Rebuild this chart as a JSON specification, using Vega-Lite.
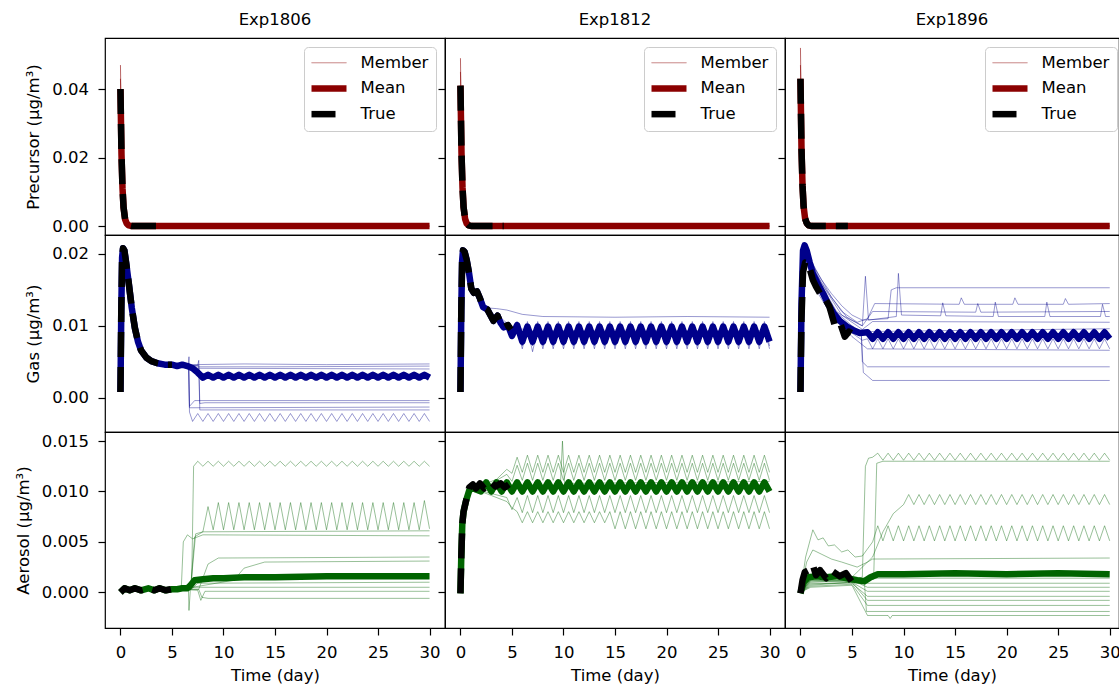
{
"$schema":"https://vega.github.io/schema/vega-lite/v6.json",
"padding":{"left":14,"top":10,"right":0,"bottom":0},
"background":"white",
"config":{
"font":"DejaVu Sans",
"view":{"stroke":"#000","strokeWidth":1.2},
"axis":{"grid":false,"domain":false,"tickColor":"#000","tickSize":7,"tickWidth":1.2,"labelFontSize":16.5,"labelColor":"#000","labelPadding":9.5,"labelFlush":false,"titleFontSize":16.5,"titleFontWeight":"normal","titleColor":"#000","titlePadding":10},
"title":{"fontSize":16.5,"fontWeight":"normal","color":"#000","offset":10,"frame":"group"},
"line":{"strokeJoin":"round","strokeCap":"butt"}
},
"columns":3,
"spacing":0,
"bounds":"flush",
"resolve":{"scale":{"x":"independent","y":"independent","color":"independent"}},
"datasets":{
"pre1806":[
{"s":1,"t":0,"y":0.047},{"s":1,"t":0.1,"y":0.025},{"s":1,"t":0.2,"y":0.013},{"s":1,"t":0.3,"y":0.0065},{"s":1,"t":0.5,"y":0.002},{"s":1,"t":0.8,"y":0.0003},{"s":1,"t":1.2,"y":0},{"s":1,"t":30,"y":0},
{"s":2,"t":0,"y":0.043},{"s":2,"t":0.1,"y":0.023},{"s":2,"t":0.2,"y":0.012},{"s":2,"t":0.35,"y":0.005},{"s":2,"t":0.6,"y":0.001},{"s":2,"t":1.2,"y":0},{"s":2,"t":30,"y":0},
{"s":0,"t":0,"y":0.04},{"s":0,"t":0.1,"y":0.021},{"s":0,"t":0.2,"y":0.011},{"s":0,"t":0.3,"y":0.0055},{"s":0,"t":0.45,"y":0.002},{"s":0,"t":0.6,"y":0.0008},{"s":0,"t":0.8,"y":0.0002},{"s":0,"t":1.1,"y":0},{"s":0,"t":30,"y":0},
{"s":-1,"t":0,"y":0.04},{"s":-1,"t":0.1,"y":0.021},{"s":-1,"t":0.2,"y":0.011},{"s":-1,"t":0.3,"y":0.0055},{"s":-1,"t":0.45,"y":0.002},{"s":-1,"t":0.6,"y":0.0008},{"s":-1,"t":0.8,"y":0.0002},{"s":-1,"t":1.1,"y":0},{"s":-1,"t":4.1,"y":0}
],
"pre1812":[
{"s":1,"t":0,"y":0.049},{"s":1,"t":0.1,"y":0.026},{"s":1,"t":0.2,"y":0.0135},{"s":1,"t":0.3,"y":0.0068},{"s":1,"t":0.5,"y":0.0021},{"s":1,"t":0.8,"y":0.0003},{"s":1,"t":1.2,"y":0},{"s":1,"t":30,"y":0},
{"s":2,"t":0,"y":0.045},{"s":2,"t":0.1,"y":0.024},{"s":2,"t":0.2,"y":0.0125},{"s":2,"t":0.35,"y":0.0052},{"s":2,"t":0.6,"y":0.001},{"s":2,"t":1.2,"y":0},{"s":2,"t":30,"y":0},
{"s":0,"t":0,"y":0.041},{"s":0,"t":0.1,"y":0.0215},{"s":0,"t":0.2,"y":0.0113},{"s":0,"t":0.3,"y":0.0056},{"s":0,"t":0.45,"y":0.0021},{"s":0,"t":0.6,"y":0.0008},{"s":0,"t":0.8,"y":0.0002},{"s":0,"t":1.1,"y":0},{"s":0,"t":30,"y":0},
{"s":-1,"t":0,"y":0.041},{"s":-1,"t":0.1,"y":0.0215},{"s":-1,"t":0.2,"y":0.0113},{"s":-1,"t":0.3,"y":0.0056},{"s":-1,"t":0.45,"y":0.0021},{"s":-1,"t":0.6,"y":0.0008},{"s":-1,"t":0.8,"y":0.0002},{"s":-1,"t":1.1,"y":0},{"s":-1,"t":4.2,"y":0}
],
"pre1896":[
{"s":1,"t":0,"y":0.052},{"s":1,"t":0.1,"y":0.0275},{"s":1,"t":0.2,"y":0.0143},{"s":1,"t":0.3,"y":0.0072},{"s":1,"t":0.5,"y":0.0022},{"s":1,"t":0.8,"y":0.0003},{"s":1,"t":1.2,"y":0},{"s":1,"t":30,"y":0},
{"s":2,"t":0,"y":0.047},{"s":2,"t":0.1,"y":0.025},{"s":2,"t":0.2,"y":0.013},{"s":2,"t":0.35,"y":0.0055},{"s":2,"t":0.6,"y":0.0011},{"s":2,"t":1.2,"y":0},{"s":2,"t":30,"y":0},
{"s":0,"t":0,"y":0.043},{"s":0,"t":0.1,"y":0.0226},{"s":0,"t":0.2,"y":0.0118},{"s":0,"t":0.3,"y":0.0059},{"s":0,"t":0.45,"y":0.0022},{"s":0,"t":0.6,"y":0.0009},{"s":0,"t":0.8,"y":0.0002},{"s":0,"t":1.1,"y":0},{"s":0,"t":30,"y":0},
{"s":-1,"t":0,"y":0.043},{"s":-1,"t":0.1,"y":0.0226},{"s":-1,"t":0.2,"y":0.0118},{"s":-1,"t":0.3,"y":0.0059},{"s":-1,"t":0.45,"y":0.0022},{"s":-1,"t":0.6,"y":0.0009},{"s":-1,"t":0.8,"y":0.0002},{"s":-1,"t":1.1,"y":0},{"s":-1,"t":4.6,"y":0}
],
"gas1806":[
{"s":1,"t":5.5,"y":0.0045},{"s":1,"t":7,"y":0.0046},{"s":1,"t":12,"y":0.0047},{"s":1,"t":20,"y":0.0046},{"s":1,"t":30,"y":0.0047},
{"s":2,"t":5.5,"y":0.0045},{"s":2,"t":7,"y":0.0043},{"s":2,"t":15,"y":0.0043},{"s":2,"t":30,"y":0.0044},
{"s":3,"t":5.5,"y":0.0045},{"s":3,"t":7,"y":0.0041},{"s":3,"t":30,"y":0.004},
{"s":4,"t":5.5,"y":0.0045},{"s":4,"t":6.6,"y":0.0045},{"s":4,"t":6.65,"y":0.0057},{"s":4,"t":6.7,"y":-0.0012},{"s":4,"t":7.2,"y":-0.0004},{"s":4,"t":30,"y":-0.0004},
{"s":5,"t":5.5,"y":0.0045},{"s":5,"t":7.5,"y":0.0045},{"s":5,"t":7.6,"y":0.0052},{"s":5,"t":7.7,"y":-0.0008},{"s":5,"t":8.2,"y":-0.0007},{"s":5,"t":30,"y":-0.0007},
{"s":6,"t":5.5,"y":0.0045},{"s":6,"t":6.6,"y":0.0045},{"s":6,"t":6.7,"y":-0.0014},{"s":6,"t":30,"y":-0.0013},
{"s":8,"t":5.5,"y":0.0045},{"s":8,"t":7.6,"y":0.0045},{"s":8,"t":7.7,"y":-0.0017},{"s":8,"t":30,"y":-0.0017},
{"s":7,"t":5.5,"y":0.0045},{"s":7,"t":6.6,"y":0.0045},{"s":7,"t":6.7,"y":-0.002},
{"s":7,"t":7,"y":-0.0033},{"s":7,"t":7.5,"y":-0.0022},{"s":7,"t":8,"y":-0.0033},{"s":7,"t":8.5,"y":-0.0022},{"s":7,"t":9,"y":-0.0033},{"s":7,"t":9.5,"y":-0.0022},{"s":7,"t":10,"y":-0.0033},{"s":7,"t":10.5,"y":-0.0022},{"s":7,"t":11,"y":-0.0033},{"s":7,"t":11.5,"y":-0.0022},{"s":7,"t":12,"y":-0.0033},{"s":7,"t":12.5,"y":-0.0022},{"s":7,"t":13,"y":-0.0033},{"s":7,"t":13.5,"y":-0.0022},{"s":7,"t":14,"y":-0.0033},{"s":7,"t":14.5,"y":-0.0022},{"s":7,"t":15,"y":-0.0033},{"s":7,"t":15.5,"y":-0.0022},{"s":7,"t":16,"y":-0.0033},{"s":7,"t":16.5,"y":-0.0022},{"s":7,"t":17,"y":-0.0033},{"s":7,"t":17.5,"y":-0.0022},{"s":7,"t":18,"y":-0.0033},{"s":7,"t":18.5,"y":-0.0022},{"s":7,"t":19,"y":-0.0033},{"s":7,"t":19.5,"y":-0.0022},{"s":7,"t":20,"y":-0.0033},{"s":7,"t":20.5,"y":-0.0022},{"s":7,"t":21,"y":-0.0033},{"s":7,"t":21.5,"y":-0.0022},{"s":7,"t":22,"y":-0.0033},{"s":7,"t":22.5,"y":-0.0022},{"s":7,"t":23,"y":-0.0033},{"s":7,"t":23.5,"y":-0.0022},{"s":7,"t":24,"y":-0.0033},{"s":7,"t":24.5,"y":-0.0022},{"s":7,"t":25,"y":-0.0033},{"s":7,"t":25.5,"y":-0.0022},{"s":7,"t":26,"y":-0.0033},{"s":7,"t":26.5,"y":-0.0022},{"s":7,"t":27,"y":-0.0033},{"s":7,"t":27.5,"y":-0.0022},{"s":7,"t":28,"y":-0.0033},{"s":7,"t":28.5,"y":-0.0022},{"s":7,"t":29,"y":-0.0033},{"s":7,"t":29.5,"y":-0.0022},{"s":7,"t":30,"y":-0.0033},
{"s":0,"t":0,"y":0.0008},{"s":0,"t":0.08,"y":0.012},{"s":0,"t":0.16,"y":0.0195},{"s":0,"t":0.25,"y":0.0208},{"s":0,"t":0.38,"y":0.0205},{"s":0,"t":0.55,"y":0.0188},{"s":0,"t":0.8,"y":0.016},{"s":0,"t":1.1,"y":0.0125},{"s":0,"t":1.4,"y":0.0097},{"s":0,"t":1.7,"y":0.0078},{"s":0,"t":2,"y":0.0066},{"s":0,"t":2.5,"y":0.0056},{"s":0,"t":3,"y":0.0051},{"s":0,"t":3.6,"y":0.0048},{"s":0,"t":4.3,"y":0.0046},{"s":0,"t":5,"y":0.0046},{"s":0,"t":5.5,"y":0.0044},{"s":0,"t":6,"y":0.0046},{"s":0,"t":6.5,"y":0.0044},{"s":0,"t":7,"y":0.0041},{"s":0,"t":7.5,"y":0.0035},
{"s":0,"t":8,"y":0.0028},{"s":0,"t":8.5,"y":0.0032},{"s":0,"t":9,"y":0.0028},{"s":0,"t":9.5,"y":0.0032},{"s":0,"t":10,"y":0.0028},{"s":0,"t":10.5,"y":0.0032},{"s":0,"t":11,"y":0.0028},{"s":0,"t":11.5,"y":0.0032},{"s":0,"t":12,"y":0.0028},{"s":0,"t":12.5,"y":0.0032},{"s":0,"t":13,"y":0.0028},{"s":0,"t":13.5,"y":0.0032},{"s":0,"t":14,"y":0.0028},{"s":0,"t":14.5,"y":0.0032},{"s":0,"t":15,"y":0.0028},{"s":0,"t":15.5,"y":0.0032},{"s":0,"t":16,"y":0.0028},{"s":0,"t":16.5,"y":0.0032},{"s":0,"t":17,"y":0.0028},{"s":0,"t":17.5,"y":0.0032},{"s":0,"t":18,"y":0.0028},{"s":0,"t":18.5,"y":0.0032},{"s":0,"t":19,"y":0.0028},{"s":0,"t":19.5,"y":0.0032},{"s":0,"t":20,"y":0.0028},{"s":0,"t":20.5,"y":0.0032},{"s":0,"t":21,"y":0.0028},{"s":0,"t":21.5,"y":0.0032},{"s":0,"t":22,"y":0.0028},{"s":0,"t":22.5,"y":0.0032},{"s":0,"t":23,"y":0.0028},{"s":0,"t":23.5,"y":0.0032},{"s":0,"t":24,"y":0.0028},{"s":0,"t":24.5,"y":0.0032},{"s":0,"t":25,"y":0.0028},{"s":0,"t":25.5,"y":0.0032},{"s":0,"t":26,"y":0.0028},{"s":0,"t":26.5,"y":0.0032},{"s":0,"t":27,"y":0.0028},{"s":0,"t":27.5,"y":0.0032},{"s":0,"t":28,"y":0.0028},{"s":0,"t":28.5,"y":0.0032},{"s":0,"t":29,"y":0.0028},{"s":0,"t":29.5,"y":0.0032},{"s":0,"t":30,"y":0.0028},
{"s":-1,"t":0,"y":0.0008},{"s":-1,"t":0.08,"y":0.012},{"s":-1,"t":0.16,"y":0.0195},{"s":-1,"t":0.25,"y":0.0208},{"s":-1,"t":0.38,"y":0.0205},{"s":-1,"t":0.55,"y":0.0188},{"s":-1,"t":0.8,"y":0.016},{"s":-1,"t":1.1,"y":0.0125},{"s":-1,"t":1.4,"y":0.0097},{"s":-1,"t":1.7,"y":0.0078},{"s":-1,"t":2,"y":0.0066},{"s":-1,"t":2.5,"y":0.0056},{"s":-1,"t":3,"y":0.0051},{"s":-1,"t":3.6,"y":0.0048},{"s":-1,"t":4.3,"y":0.0046},{"s":-1,"t":5,"y":0.0046}
],
"gas1812":[
{"s":1,"t":2.5,"y":0.0125},{"s":1,"t":3.5,"y":0.0124},{"s":1,"t":4.5,"y":0.0122},{"s":1,"t":6,"y":0.0116},{"s":1,"t":8,"y":0.0113},{"s":1,"t":15,"y":0.0112},{"s":1,"t":22,"y":0.0113},{"s":1,"t":30,"y":0.0112},
{"s":2,"t":4.5,"y":0.0101},{"s":2,"t":5,"y":0.0085},{"s":2,"t":5.5,"y":0.0106},
{"s":2,"t":6,"y":0.0072},{"s":2,"t":6.5,"y":0.0106},{"s":2,"t":7,"y":0.0072},{"s":2,"t":7.5,"y":0.0106},{"s":2,"t":8,"y":0.0072},{"s":2,"t":8.5,"y":0.0106},{"s":2,"t":9,"y":0.0072},{"s":2,"t":9.5,"y":0.0106},{"s":2,"t":10,"y":0.0072},{"s":2,"t":10.5,"y":0.0106},{"s":2,"t":11,"y":0.0072},{"s":2,"t":11.5,"y":0.0106},{"s":2,"t":12,"y":0.0072},{"s":2,"t":12.5,"y":0.0106},{"s":2,"t":13,"y":0.0072},{"s":2,"t":13.5,"y":0.0106},{"s":2,"t":14,"y":0.0072},{"s":2,"t":14.5,"y":0.0106},{"s":2,"t":15,"y":0.0072},{"s":2,"t":15.5,"y":0.0106},{"s":2,"t":16,"y":0.0072},{"s":2,"t":16.5,"y":0.0106},{"s":2,"t":17,"y":0.0072},{"s":2,"t":17.5,"y":0.0106},{"s":2,"t":18,"y":0.0072},{"s":2,"t":18.5,"y":0.0106},{"s":2,"t":19,"y":0.0072},{"s":2,"t":19.5,"y":0.0106},{"s":2,"t":20,"y":0.0072},{"s":2,"t":20.5,"y":0.0106},{"s":2,"t":21,"y":0.0072},{"s":2,"t":21.5,"y":0.0106},{"s":2,"t":22,"y":0.0072},{"s":2,"t":22.5,"y":0.0106},{"s":2,"t":23,"y":0.0072},{"s":2,"t":23.5,"y":0.0106},{"s":2,"t":24,"y":0.0072},{"s":2,"t":24.5,"y":0.0106},{"s":2,"t":25,"y":0.0072},{"s":2,"t":25.5,"y":0.0106},{"s":2,"t":26,"y":0.0072},{"s":2,"t":26.5,"y":0.0106},{"s":2,"t":27,"y":0.0072},{"s":2,"t":27.5,"y":0.0106},{"s":2,"t":28,"y":0.0072},{"s":2,"t":28.5,"y":0.0106},{"s":2,"t":29,"y":0.0072},{"s":2,"t":29.5,"y":0.0106},{"s":2,"t":30,"y":0.0072},
{"s":3,"t":4.5,"y":0.01},{"s":3,"t":5,"y":0.0082},{"s":3,"t":5.5,"y":0.0098},
{"s":3,"t":6,"y":0.0068},{"s":3,"t":6.5,"y":0.0097},{"s":3,"t":7,"y":0.0064},{"s":3,"t":7.5,"y":0.0097},{"s":3,"t":8,"y":0.0068},{"s":3,"t":8.5,"y":0.0097},{"s":3,"t":9,"y":0.0068},{"s":3,"t":9.5,"y":0.0097},{"s":3,"t":10,"y":0.0068},{"s":3,"t":10.5,"y":0.0097},{"s":3,"t":11,"y":0.0068},{"s":3,"t":11.5,"y":0.0097},{"s":3,"t":12,"y":0.0068},{"s":3,"t":12.5,"y":0.0097},{"s":3,"t":13,"y":0.0068},{"s":3,"t":13.5,"y":0.0097},{"s":3,"t":14,"y":0.0068},{"s":3,"t":14.5,"y":0.0097},{"s":3,"t":15,"y":0.0068},{"s":3,"t":15.5,"y":0.0097},{"s":3,"t":16,"y":0.0068},{"s":3,"t":16.5,"y":0.0097},{"s":3,"t":17,"y":0.0068},{"s":3,"t":17.5,"y":0.0097},{"s":3,"t":18,"y":0.0068},{"s":3,"t":18.5,"y":0.0097},{"s":3,"t":19,"y":0.0068},{"s":3,"t":19.5,"y":0.0097},{"s":3,"t":20,"y":0.0068},{"s":3,"t":20.5,"y":0.0097},{"s":3,"t":21,"y":0.0068},{"s":3,"t":21.5,"y":0.0097},{"s":3,"t":22,"y":0.0068},{"s":3,"t":22.5,"y":0.0097},{"s":3,"t":23,"y":0.0068},{"s":3,"t":23.5,"y":0.0097},{"s":3,"t":24,"y":0.0068},{"s":3,"t":24.5,"y":0.0097},{"s":3,"t":25,"y":0.0068},{"s":3,"t":25.5,"y":0.0097},{"s":3,"t":26,"y":0.0068},{"s":3,"t":26.5,"y":0.0097},{"s":3,"t":27,"y":0.0068},{"s":3,"t":27.5,"y":0.0097},{"s":3,"t":28,"y":0.0068},{"s":3,"t":28.5,"y":0.0097},{"s":3,"t":29,"y":0.0068},{"s":3,"t":29.5,"y":0.0097},{"s":3,"t":30,"y":0.0068},
{"s":4,"t":3,"y":0.0118},{"s":4,"t":4,"y":0.011},{"s":4,"t":5,"y":0.0098},{"s":4,"t":7,"y":0.0093},{"s":4,"t":15,"y":0.0094},{"s":4,"t":30,"y":0.0093},
{"s":0,"t":0,"y":0.0008},{"s":0,"t":0.08,"y":0.012},{"s":0,"t":0.16,"y":0.019},{"s":0,"t":0.25,"y":0.0205},{"s":0,"t":0.4,"y":0.0203},{"s":0,"t":0.6,"y":0.0192},{"s":0,"t":0.85,"y":0.0172},{"s":0,"t":1.05,"y":0.0152},{"s":0,"t":1.3,"y":0.0146},{"s":0,"t":1.6,"y":0.0148},{"s":0,"t":1.9,"y":0.0138},{"s":0,"t":2.2,"y":0.0126},{"s":0,"t":2.6,"y":0.0123},{"s":0,"t":2.9,"y":0.0115},{"s":0,"t":3.2,"y":0.0107},{"s":0,"t":3.6,"y":0.0114},{"s":0,"t":3.9,"y":0.0104},{"s":0,"t":4.2,"y":0.0098},{"s":0,"t":4.6,"y":0.0101},{"s":0,"t":5,"y":0.0086},{"s":0,"t":5.5,"y":0.0101},
{"s":0,"t":6,"y":0.0078},{"s":0,"t":6.5,"y":0.0099},{"s":0,"t":7,"y":0.0078},{"s":0,"t":7.5,"y":0.0099},{"s":0,"t":8,"y":0.0078},{"s":0,"t":8.5,"y":0.0099},{"s":0,"t":9,"y":0.0078},{"s":0,"t":9.5,"y":0.0099},{"s":0,"t":10,"y":0.0078},{"s":0,"t":10.5,"y":0.0099},{"s":0,"t":11,"y":0.0078},{"s":0,"t":11.5,"y":0.0099},{"s":0,"t":12,"y":0.0078},{"s":0,"t":12.5,"y":0.0099},{"s":0,"t":13,"y":0.0078},{"s":0,"t":13.5,"y":0.0099},{"s":0,"t":14,"y":0.0078},{"s":0,"t":14.5,"y":0.0099},{"s":0,"t":15,"y":0.0078},{"s":0,"t":15.5,"y":0.0099},{"s":0,"t":16,"y":0.0078},{"s":0,"t":16.5,"y":0.0099},{"s":0,"t":17,"y":0.0078},{"s":0,"t":17.5,"y":0.0099},{"s":0,"t":18,"y":0.0078},{"s":0,"t":18.5,"y":0.0099},{"s":0,"t":19,"y":0.0078},{"s":0,"t":19.5,"y":0.0099},{"s":0,"t":20,"y":0.0078},{"s":0,"t":20.5,"y":0.0099},{"s":0,"t":21,"y":0.0078},{"s":0,"t":21.5,"y":0.0099},{"s":0,"t":22,"y":0.0078},{"s":0,"t":22.5,"y":0.0099},{"s":0,"t":23,"y":0.0078},{"s":0,"t":23.5,"y":0.0099},{"s":0,"t":24,"y":0.0078},{"s":0,"t":24.5,"y":0.0099},{"s":0,"t":25,"y":0.0078},{"s":0,"t":25.5,"y":0.0099},{"s":0,"t":26,"y":0.0078},{"s":0,"t":26.5,"y":0.0099},{"s":0,"t":27,"y":0.0078},{"s":0,"t":27.5,"y":0.0099},{"s":0,"t":28,"y":0.0078},{"s":0,"t":28.5,"y":0.0099},{"s":0,"t":29,"y":0.0078},{"s":0,"t":29.5,"y":0.0099},{"s":0,"t":30,"y":0.0078},
{"s":-1,"t":0,"y":0.0008},{"s":-1,"t":0.08,"y":0.012},{"s":-1,"t":0.16,"y":0.019},{"s":-1,"t":0.25,"y":0.0205},{"s":-1,"t":0.4,"y":0.0203},{"s":-1,"t":0.6,"y":0.0192},{"s":-1,"t":0.85,"y":0.0172},{"s":-1,"t":1.05,"y":0.0152},{"s":-1,"t":1.3,"y":0.0146},{"s":-1,"t":1.6,"y":0.0148},{"s":-1,"t":1.9,"y":0.0138},{"s":-1,"t":2.2,"y":0.0126},{"s":-1,"t":2.6,"y":0.0123},{"s":-1,"t":2.9,"y":0.0115},{"s":-1,"t":3.2,"y":0.0107},{"s":-1,"t":3.6,"y":0.0114},{"s":-1,"t":3.9,"y":0.0104},{"s":-1,"t":4.2,"y":0.0098},{"s":-1,"t":4.6,"y":0.0101},{"s":-1,"t":4.9,"y":0.0095}
],
"gas1896":[
{"s":1,"t":0.4,"y":0.021},{"s":1,"t":1,"y":0.019},{"s":1,"t":2,"y":0.0165},{"s":1,"t":3,"y":0.0145},{"s":1,"t":4,"y":0.0128},{"s":1,"t":5,"y":0.0115},{"s":1,"t":6,"y":0.0108},{"s":1,"t":8.5,"y":0.011},{"s":1,"t":8.8,"y":0.015},{"s":1,"t":9.3,"y":0.0153},{"s":1,"t":30,"y":0.0153},
{"s":2,"t":0.4,"y":0.021},{"s":2,"t":1.5,"y":0.0178},{"s":2,"t":3,"y":0.014},{"s":2,"t":4.5,"y":0.0112},{"s":2,"t":6,"y":0.01},{"s":2,"t":6.3,"y":0.0169},{"s":2,"t":6.6,"y":0.0108},{"s":2,"t":9.3,"y":0.0113},{"s":2,"t":9.5,"y":0.0173},{"s":2,"t":9.8,"y":0.0115},{"s":2,"t":13.6,"y":0.0114},{"s":2,"t":13.8,"y":0.0132},{"s":2,"t":14.1,"y":0.0114},{"s":2,"t":18.7,"y":0.0113},{"s":2,"t":18.9,"y":0.0133},{"s":2,"t":19.2,"y":0.0113},{"s":2,"t":23.7,"y":0.0113},{"s":2,"t":23.9,"y":0.0133},{"s":2,"t":24.2,"y":0.0113},{"s":2,"t":29.1,"y":0.0113},{"s":2,"t":29.3,"y":0.013},{"s":2,"t":29.6,"y":0.0113},{"s":2,"t":30,"y":0.0113},
{"s":3,"t":0.4,"y":0.021},{"s":3,"t":1.2,"y":0.018},{"s":3,"t":2.5,"y":0.015},{"s":3,"t":4,"y":0.012},{"s":3,"t":5.5,"y":0.0105},{"s":3,"t":6.5,"y":0.011},{"s":3,"t":7.2,"y":0.0131},{"s":3,"t":15.4,"y":0.013},{"s":3,"t":15.6,"y":0.0139},{"s":3,"t":15.9,"y":0.013},{"s":3,"t":20.6,"y":0.013},{"s":3,"t":20.8,"y":0.0139},{"s":3,"t":21.1,"y":0.013},{"s":3,"t":25.5,"y":0.013},{"s":3,"t":25.7,"y":0.0138},{"s":3,"t":26,"y":0.013},{"s":3,"t":30,"y":0.0131},
{"s":4,"t":0.4,"y":0.021},{"s":4,"t":2,"y":0.016},{"s":4,"t":4,"y":0.0115},{"s":4,"t":6,"y":0.01},{"s":4,"t":7,"y":0.012},{"s":4,"t":17,"y":0.0119},{"s":4,"t":17.2,"y":0.0131},{"s":4,"t":17.5,"y":0.0119},{"s":4,"t":30,"y":0.012},
{"s":5,"t":0.4,"y":0.021},{"s":5,"t":1.5,"y":0.017},{"s":5,"t":3.5,"y":0.012},{"s":5,"t":6,"y":0.0095},{"s":5,"t":7,"y":0.0106},{"s":5,"t":30,"y":0.0105},
{"s":7,"t":0.4,"y":0.021},{"s":7,"t":1.5,"y":0.015},{"s":7,"t":3,"y":0.0115},{"s":7,"t":5,"y":0.0085},{"s":7,"t":6.5,"y":0.0068},{"s":7,"t":30,"y":0.0066},
{"s":8,"t":0.4,"y":0.021},{"s":8,"t":1.5,"y":0.0165},{"s":8,"t":3,"y":0.0125},{"s":8,"t":5,"y":0.01},{"s":8,"t":5.9,"y":0.0092},{"s":8,"t":6,"y":0.005},{"s":8,"t":6.5,"y":0.0043},{"s":8,"t":30,"y":0.0043},
{"s":9,"t":0.4,"y":0.021},{"s":9,"t":1.5,"y":0.016},{"s":9,"t":3,"y":0.012},{"s":9,"t":5,"y":0.0095},{"s":9,"t":5.9,"y":0.0088},{"s":9,"t":6.1,"y":0.0035},{"s":9,"t":7,"y":0.0024},{"s":9,"t":30,"y":0.0024},
{"s":10,"t":0.4,"y":0.021},{"s":10,"t":2,"y":0.015},{"s":10,"t":4,"y":0.0105},{"s":10,"t":6,"y":0.0092},{"s":10,"t":30,"y":0.0096},
{"s":6,"t":0.4,"y":0.021},{"s":6,"t":1.3,"y":0.016},{"s":6,"t":2.5,"y":0.013},{"s":6,"t":3.5,"y":0.011},{"s":6,"t":5,"y":0.009},{"s":6,"t":6,"y":0.008},
{"s":6,"t":6.5,"y":0.0082},{"s":6,"t":7,"y":0.0068},{"s":6,"t":7.5,"y":0.0082},{"s":6,"t":8,"y":0.0068},{"s":6,"t":8.5,"y":0.0082},{"s":6,"t":9,"y":0.0068},{"s":6,"t":9.5,"y":0.0082},{"s":6,"t":10,"y":0.0068},{"s":6,"t":10.5,"y":0.0082},{"s":6,"t":11,"y":0.0068},{"s":6,"t":11.5,"y":0.0082},{"s":6,"t":12,"y":0.0068},{"s":6,"t":12.5,"y":0.0082},{"s":6,"t":13,"y":0.0068},{"s":6,"t":13.5,"y":0.0082},{"s":6,"t":14,"y":0.0068},{"s":6,"t":14.5,"y":0.0082},{"s":6,"t":15,"y":0.0068},{"s":6,"t":15.5,"y":0.0082},{"s":6,"t":16,"y":0.0068},{"s":6,"t":16.5,"y":0.0082},{"s":6,"t":17,"y":0.0068},{"s":6,"t":17.5,"y":0.0082},{"s":6,"t":18,"y":0.0068},{"s":6,"t":18.5,"y":0.0082},{"s":6,"t":19,"y":0.0068},{"s":6,"t":19.5,"y":0.0082},{"s":6,"t":20,"y":0.0068},{"s":6,"t":20.5,"y":0.0082},{"s":6,"t":21,"y":0.0068},{"s":6,"t":21.5,"y":0.0082},{"s":6,"t":22,"y":0.0068},{"s":6,"t":22.5,"y":0.0082},{"s":6,"t":23,"y":0.0068},{"s":6,"t":23.5,"y":0.0082},{"s":6,"t":24,"y":0.0068},{"s":6,"t":24.5,"y":0.0082},{"s":6,"t":25,"y":0.0068},{"s":6,"t":25.5,"y":0.0082},{"s":6,"t":26,"y":0.0068},{"s":6,"t":26.5,"y":0.0082},{"s":6,"t":27,"y":0.0068},{"s":6,"t":27.5,"y":0.0082},{"s":6,"t":28,"y":0.0068},{"s":6,"t":28.5,"y":0.0082},{"s":6,"t":29,"y":0.0068},{"s":6,"t":29.5,"y":0.0082},{"s":6,"t":30,"y":0.0068},
{"s":0,"t":0,"y":0.0008},{"s":0,"t":0.1,"y":0.013},{"s":0,"t":0.25,"y":0.0205},{"s":0,"t":0.4,"y":0.0212},{"s":0,"t":0.6,"y":0.0205},{"s":0,"t":0.9,"y":0.0188},{"s":0,"t":1.2,"y":0.0173},{"s":0,"t":1.7,"y":0.0158},{"s":0,"t":2.2,"y":0.0145},{"s":0,"t":2.7,"y":0.013},{"s":0,"t":3.2,"y":0.0118},{"s":0,"t":3.8,"y":0.0107},{"s":0,"t":4.5,"y":0.0099},{"s":0,"t":5.1,"y":0.0094},{"s":0,"t":5.75,"y":0.009},
{"s":0,"t":6.5,"y":0.0091},{"s":0,"t":7,"y":0.0082},{"s":0,"t":7.5,"y":0.0091},{"s":0,"t":8,"y":0.0082},{"s":0,"t":8.5,"y":0.0091},{"s":0,"t":9,"y":0.0082},{"s":0,"t":9.5,"y":0.0091},{"s":0,"t":10,"y":0.0082},{"s":0,"t":10.5,"y":0.0091},{"s":0,"t":11,"y":0.0082},{"s":0,"t":11.5,"y":0.0091},{"s":0,"t":12,"y":0.0082},{"s":0,"t":12.5,"y":0.0091},{"s":0,"t":13,"y":0.0082},{"s":0,"t":13.5,"y":0.0091},{"s":0,"t":14,"y":0.0082},{"s":0,"t":14.5,"y":0.0091},{"s":0,"t":15,"y":0.0082},{"s":0,"t":15.5,"y":0.0091},{"s":0,"t":16,"y":0.0082},{"s":0,"t":16.5,"y":0.0091},{"s":0,"t":17,"y":0.0082},{"s":0,"t":17.5,"y":0.0091},{"s":0,"t":18,"y":0.0082},{"s":0,"t":18.5,"y":0.0091},{"s":0,"t":19,"y":0.0082},{"s":0,"t":19.5,"y":0.0091},{"s":0,"t":20,"y":0.0082},{"s":0,"t":20.5,"y":0.0091},{"s":0,"t":21,"y":0.0082},{"s":0,"t":21.5,"y":0.0091},{"s":0,"t":22,"y":0.0082},{"s":0,"t":22.5,"y":0.0091},{"s":0,"t":23,"y":0.0082},{"s":0,"t":23.5,"y":0.0091},{"s":0,"t":24,"y":0.0082},{"s":0,"t":24.5,"y":0.0091},{"s":0,"t":25,"y":0.0082},{"s":0,"t":25.5,"y":0.0091},{"s":0,"t":26,"y":0.0082},{"s":0,"t":26.5,"y":0.0091},{"s":0,"t":27,"y":0.0082},{"s":0,"t":27.5,"y":0.0091},{"s":0,"t":28,"y":0.0082},{"s":0,"t":28.5,"y":0.0091},{"s":0,"t":29,"y":0.0082},{"s":0,"t":29.5,"y":0.0091},{"s":0,"t":30,"y":0.0082},
{"s":-1,"t":0,"y":0.0008},{"s":-1,"t":0.1,"y":0.011},{"s":-1,"t":0.25,"y":0.0175},{"s":-1,"t":0.45,"y":0.0188},{"s":-1,"t":0.75,"y":0.0187},{"s":-1,"t":1.2,"y":0.0164},{"s":-1,"t":1.5,"y":0.0155},{"s":-1,"t":1.9,"y":0.0145},{"s":-1,"t":2.3,"y":0.014},{"s":-1,"t":2.8,"y":0.0127},{"s":-1,"t":3.3,"y":0.0102},{"s":-1,"t":3.8,"y":0.0106},{"s":-1,"t":4.3,"y":0.0085},{"s":-1,"t":4.7,"y":0.0092},{"s":-1,"t":4.95,"y":0.009}
],
"aer1806":[
{"s":3,"t":5.5,"y":0.0003},{"s":3,"t":6.8,"y":0.0003},{"s":3,"t":7.3,"y":0.0058},{"s":3,"t":8,"y":0.006},{"s":3,"t":30,"y":0.0061},
{"s":4,"t":5.5,"y":0.0003},{"s":4,"t":5.9,"y":0.0003},{"s":4,"t":6.1,"y":0.005},{"s":4,"t":6.5,"y":0.0057},{"s":4,"t":7,"y":0.0053},{"s":4,"t":8,"y":0.0057},{"s":4,"t":30,"y":0.0056},
{"s":5,"t":5.5,"y":0.0003},{"s":5,"t":7.6,"y":0.0003},{"s":5,"t":8.5,"y":0.0028},{"s":5,"t":9.5,"y":0.0034},{"s":5,"t":30,"y":0.0035},
{"s":6,"t":5.5,"y":0.0003},{"s":6,"t":7,"y":0.0005},{"s":6,"t":11,"y":0.0012},{"s":6,"t":12,"y":0.0024},{"s":6,"t":14,"y":0.003},{"s":6,"t":30,"y":0.0031},
{"s":7,"t":5.5,"y":0.0003},{"s":7,"t":7,"y":0.0004},{"s":7,"t":7.5,"y":0.0009},{"s":7,"t":30,"y":0.001},
{"s":8,"t":5.5,"y":0.0003},{"s":8,"t":6.6,"y":0.0003},{"s":8,"t":6.65,"y":-0.0018},{"s":8,"t":6.8,"y":0.0005},{"s":8,"t":30,"y":0.0005},
{"s":9,"t":5.5,"y":0.0003},{"s":9,"t":7.5,"y":0.0002},{"s":9,"t":7.8,"y":-0.0008},{"s":9,"t":8.2,"y":0.0001},{"s":9,"t":30,"y":0.0001},
{"s":10,"t":5.5,"y":0.0003},{"s":10,"t":7.6,"y":0.0003},{"s":10,"t":7.9,"y":-0.0005},{"s":10,"t":8.5,"y":-0.0006},{"s":10,"t":30,"y":-0.0006},
{"s":1,"t":5.5,"y":0.0003},{"s":1,"t":6.9,"y":0.0003},{"s":1,"t":7.1,"y":0.0125},{"s":1,"t":7.5,"y":0.013},
{"s":1,"t":8,"y":0.0125},{"s":1,"t":8.5,"y":0.013},{"s":1,"t":9,"y":0.0125},{"s":1,"t":9.5,"y":0.013},{"s":1,"t":10,"y":0.0125},{"s":1,"t":10.5,"y":0.013},{"s":1,"t":11,"y":0.0125},{"s":1,"t":11.5,"y":0.013},{"s":1,"t":12,"y":0.0125},{"s":1,"t":12.5,"y":0.013},{"s":1,"t":13,"y":0.0125},{"s":1,"t":13.5,"y":0.013},{"s":1,"t":14,"y":0.0125},{"s":1,"t":14.5,"y":0.013},{"s":1,"t":15,"y":0.0125},{"s":1,"t":15.5,"y":0.013},{"s":1,"t":16,"y":0.0125},{"s":1,"t":16.5,"y":0.013},{"s":1,"t":17,"y":0.0125},{"s":1,"t":17.5,"y":0.013},{"s":1,"t":18,"y":0.0125},{"s":1,"t":18.5,"y":0.013},{"s":1,"t":19,"y":0.0125},{"s":1,"t":19.5,"y":0.013},{"s":1,"t":20,"y":0.0125},{"s":1,"t":20.5,"y":0.013},{"s":1,"t":21,"y":0.0125},{"s":1,"t":21.5,"y":0.013},{"s":1,"t":22,"y":0.0125},{"s":1,"t":22.5,"y":0.013},{"s":1,"t":23,"y":0.0125},{"s":1,"t":23.5,"y":0.013},{"s":1,"t":24,"y":0.0125},{"s":1,"t":24.5,"y":0.013},{"s":1,"t":25,"y":0.0125},{"s":1,"t":25.5,"y":0.013},{"s":1,"t":26,"y":0.0125},{"s":1,"t":26.5,"y":0.013},{"s":1,"t":27,"y":0.0125},{"s":1,"t":27.5,"y":0.013},{"s":1,"t":28,"y":0.0125},{"s":1,"t":28.5,"y":0.013},{"s":1,"t":29,"y":0.0125},{"s":1,"t":29.5,"y":0.013},{"s":1,"t":30,"y":0.0125},
{"s":2,"t":5.5,"y":0.0003},{"s":2,"t":6.8,"y":0.0003},{"s":2,"t":7.2,"y":0.0055},{"s":2,"t":8,"y":0.006},{"s":2,"t":8.5,"y":0.0085},
{"s":2,"t":9,"y":0.0062},{"s":2,"t":9.5,"y":0.0089},{"s":2,"t":10,"y":0.0062},{"s":2,"t":10.5,"y":0.0089},{"s":2,"t":11,"y":0.0062},{"s":2,"t":11.5,"y":0.0089},{"s":2,"t":12,"y":0.0062},{"s":2,"t":12.5,"y":0.0089},{"s":2,"t":13,"y":0.0062},{"s":2,"t":13.5,"y":0.0089},{"s":2,"t":14,"y":0.0062},{"s":2,"t":14.5,"y":0.0089},{"s":2,"t":15,"y":0.0062},{"s":2,"t":15.5,"y":0.0089},{"s":2,"t":16,"y":0.0062},{"s":2,"t":16.5,"y":0.0089},{"s":2,"t":17,"y":0.0062},{"s":2,"t":17.5,"y":0.0089},{"s":2,"t":18,"y":0.0062},{"s":2,"t":18.5,"y":0.0089},{"s":2,"t":19,"y":0.0062},{"s":2,"t":19.5,"y":0.0089},{"s":2,"t":20,"y":0.0062},{"s":2,"t":20.5,"y":0.0089},{"s":2,"t":21,"y":0.0062},{"s":2,"t":21.5,"y":0.0089},{"s":2,"t":22,"y":0.0062},{"s":2,"t":22.5,"y":0.0089},{"s":2,"t":23,"y":0.0062},{"s":2,"t":23.5,"y":0.0089},{"s":2,"t":24,"y":0.0062},{"s":2,"t":24.5,"y":0.0089},{"s":2,"t":25,"y":0.0062},{"s":2,"t":25.5,"y":0.0089},{"s":2,"t":26,"y":0.0062},{"s":2,"t":26.5,"y":0.0089},{"s":2,"t":27,"y":0.0062},{"s":2,"t":27.5,"y":0.0089},{"s":2,"t":28,"y":0.0062},{"s":2,"t":28.5,"y":0.0089},{"s":2,"t":29,"y":0.0062},{"s":2,"t":29.5,"y":0.0091},{"s":2,"t":30,"y":0.0063},
{"s":0,"t":0,"y":0},{"s":0,"t":0.4,"y":0.0004},{"s":0,"t":0.9,"y":0.0002},{"s":0,"t":1.4,"y":0.0004},{"s":0,"t":2,"y":0.0002},{"s":0,"t":2.7,"y":0.0004},{"s":0,"t":3.3,"y":0.0002},{"s":0,"t":3.8,"y":0.0004},{"s":0,"t":4.4,"y":0.0002},{"s":0,"t":5,"y":0.0003},{"s":0,"t":5.5,"y":0.0003},{"s":0,"t":6,"y":0.0004},{"s":0,"t":6.5,"y":0.0004},{"s":0,"t":6.8,"y":0.0007},{"s":0,"t":7.2,"y":0.0012},{"s":0,"t":8,"y":0.0013},{"s":0,"t":9,"y":0.0014},{"s":0,"t":10,"y":0.0014},{"s":0,"t":12,"y":0.0015},{"s":0,"t":15,"y":0.0015},{"s":0,"t":20,"y":0.0016},{"s":0,"t":25,"y":0.0016},{"s":0,"t":30,"y":0.0016},
{"s":-1,"t":0,"y":0},{"s":-1,"t":0.4,"y":0.0004},{"s":-1,"t":0.9,"y":0.0002},{"s":-1,"t":1.4,"y":0.0004},{"s":-1,"t":2,"y":0.0002},{"s":-1,"t":2.7,"y":0.0004},{"s":-1,"t":3.3,"y":0.0002},{"s":-1,"t":3.8,"y":0.0004},{"s":-1,"t":4.4,"y":0.0002},{"s":-1,"t":4.9,"y":0.0003}
],
"aer1812":[
{"s":5,"t":1.5,"y":0.0102},{"s":5,"t":9.7,"y":0.0106},{"s":5,"t":9.9,"y":0.015},{"s":5,"t":10.1,"y":0.0108},{"s":5,"t":30,"y":0.011},
{"s":1,"t":1.5,"y":0.0102},{"s":1,"t":2.5,"y":0.0108},{"s":1,"t":3.5,"y":0.0112},{"s":1,"t":4.5,"y":0.0122},{"s":1,"t":5,"y":0.0118},{"s":1,"t":5.5,"y":0.0134},
{"s":1,"t":6,"y":0.0119},{"s":1,"t":6.5,"y":0.0136},{"s":1,"t":7,"y":0.0119},{"s":1,"t":7.5,"y":0.0136},{"s":1,"t":8,"y":0.0119},{"s":1,"t":8.5,"y":0.0136},{"s":1,"t":9,"y":0.0119},{"s":1,"t":9.5,"y":0.0136},{"s":1,"t":10,"y":0.0119},{"s":1,"t":10.5,"y":0.0136},{"s":1,"t":11,"y":0.0119},{"s":1,"t":11.5,"y":0.0136},{"s":1,"t":12,"y":0.0119},{"s":1,"t":12.5,"y":0.0136},{"s":1,"t":13,"y":0.0119},{"s":1,"t":13.5,"y":0.0136},{"s":1,"t":14,"y":0.0119},{"s":1,"t":14.5,"y":0.0136},{"s":1,"t":15,"y":0.0119},{"s":1,"t":15.5,"y":0.0136},{"s":1,"t":16,"y":0.0119},{"s":1,"t":16.5,"y":0.0136},{"s":1,"t":17,"y":0.0119},{"s":1,"t":17.5,"y":0.0136},{"s":1,"t":18,"y":0.0119},{"s":1,"t":18.5,"y":0.0136},{"s":1,"t":19,"y":0.0119},{"s":1,"t":19.5,"y":0.0136},{"s":1,"t":20,"y":0.0119},{"s":1,"t":20.5,"y":0.0136},{"s":1,"t":21,"y":0.0119},{"s":1,"t":21.5,"y":0.0136},{"s":1,"t":22,"y":0.0119},{"s":1,"t":22.5,"y":0.0136},{"s":1,"t":23,"y":0.0119},{"s":1,"t":23.5,"y":0.0136},{"s":1,"t":24,"y":0.0119},{"s":1,"t":24.5,"y":0.0136},{"s":1,"t":25,"y":0.0119},{"s":1,"t":25.5,"y":0.0136},{"s":1,"t":26,"y":0.0119},{"s":1,"t":26.5,"y":0.0136},{"s":1,"t":27,"y":0.0119},{"s":1,"t":27.5,"y":0.0136},{"s":1,"t":28,"y":0.0119},{"s":1,"t":28.5,"y":0.0136},{"s":1,"t":29,"y":0.0119},{"s":1,"t":29.5,"y":0.0136},{"s":1,"t":30,"y":0.0119},
{"s":2,"t":1.5,"y":0.0102},{"s":2,"t":3,"y":0.0108},{"s":2,"t":4.5,"y":0.0117},{"s":2,"t":5,"y":0.011},{"s":2,"t":5.5,"y":0.0126},
{"s":2,"t":6,"y":0.0111},{"s":2,"t":6.5,"y":0.0128},{"s":2,"t":7,"y":0.0111},{"s":2,"t":7.5,"y":0.0128},{"s":2,"t":8,"y":0.0111},{"s":2,"t":8.5,"y":0.0128},{"s":2,"t":9,"y":0.0111},{"s":2,"t":9.5,"y":0.0128},{"s":2,"t":10,"y":0.0111},{"s":2,"t":10.5,"y":0.0128},{"s":2,"t":11,"y":0.0111},{"s":2,"t":11.5,"y":0.0128},{"s":2,"t":12,"y":0.0111},{"s":2,"t":12.5,"y":0.0128},{"s":2,"t":13,"y":0.0111},{"s":2,"t":13.5,"y":0.0128},{"s":2,"t":14,"y":0.0111},{"s":2,"t":14.5,"y":0.0128},{"s":2,"t":15,"y":0.0111},{"s":2,"t":15.5,"y":0.0128},{"s":2,"t":16,"y":0.0111},{"s":2,"t":16.5,"y":0.0128},{"s":2,"t":17,"y":0.0111},{"s":2,"t":17.5,"y":0.0128},{"s":2,"t":18,"y":0.0111},{"s":2,"t":18.5,"y":0.0128},{"s":2,"t":19,"y":0.0111},{"s":2,"t":19.5,"y":0.0128},{"s":2,"t":20,"y":0.0111},{"s":2,"t":20.5,"y":0.0128},{"s":2,"t":21,"y":0.0111},{"s":2,"t":21.5,"y":0.0128},{"s":2,"t":22,"y":0.0111},{"s":2,"t":22.5,"y":0.0128},{"s":2,"t":23,"y":0.0111},{"s":2,"t":23.5,"y":0.0128},{"s":2,"t":24,"y":0.0111},{"s":2,"t":24.5,"y":0.0128},{"s":2,"t":25,"y":0.0111},{"s":2,"t":25.5,"y":0.0128},{"s":2,"t":26,"y":0.0111},{"s":2,"t":26.5,"y":0.0128},{"s":2,"t":27,"y":0.0111},{"s":2,"t":27.5,"y":0.0128},{"s":2,"t":28,"y":0.0111},{"s":2,"t":28.5,"y":0.0128},{"s":2,"t":29,"y":0.0111},{"s":2,"t":29.5,"y":0.0128},{"s":2,"t":30,"y":0.0111},
{"s":3,"t":1.5,"y":0.0102},{"s":3,"t":3,"y":0.0098},{"s":3,"t":4.5,"y":0.0094},{"s":3,"t":5,"y":0.0082},{"s":3,"t":5.5,"y":0.0094},
{"s":3,"t":6,"y":0.0079},{"s":3,"t":6.5,"y":0.0096},{"s":3,"t":7,"y":0.0079},{"s":3,"t":7.5,"y":0.0096},{"s":3,"t":8,"y":0.0079},{"s":3,"t":8.5,"y":0.0096},{"s":3,"t":9,"y":0.0079},{"s":3,"t":9.5,"y":0.0096},{"s":3,"t":10,"y":0.0079},{"s":3,"t":10.5,"y":0.0096},{"s":3,"t":11,"y":0.0079},{"s":3,"t":11.5,"y":0.0096},{"s":3,"t":12,"y":0.0079},{"s":3,"t":12.5,"y":0.0096},{"s":3,"t":13,"y":0.0079},{"s":3,"t":13.5,"y":0.0096},{"s":3,"t":14,"y":0.0079},{"s":3,"t":14.5,"y":0.0096},{"s":3,"t":15,"y":0.0079},{"s":3,"t":15.5,"y":0.0096},{"s":3,"t":16,"y":0.0079},{"s":3,"t":16.5,"y":0.0096},{"s":3,"t":17,"y":0.0079},{"s":3,"t":17.5,"y":0.0096},{"s":3,"t":18,"y":0.0079},{"s":3,"t":18.5,"y":0.0096},{"s":3,"t":19,"y":0.0079},{"s":3,"t":19.5,"y":0.0096},{"s":3,"t":20,"y":0.0079},{"s":3,"t":20.5,"y":0.0096},{"s":3,"t":21,"y":0.0079},{"s":3,"t":21.5,"y":0.0096},{"s":3,"t":22,"y":0.0079},{"s":3,"t":22.5,"y":0.0096},{"s":3,"t":23,"y":0.0079},{"s":3,"t":23.5,"y":0.0096},{"s":3,"t":24,"y":0.0079},{"s":3,"t":24.5,"y":0.0096},{"s":3,"t":25,"y":0.0079},{"s":3,"t":25.5,"y":0.0096},{"s":3,"t":26,"y":0.0079},{"s":3,"t":26.5,"y":0.0096},{"s":3,"t":27,"y":0.0079},{"s":3,"t":27.5,"y":0.0096},{"s":3,"t":28,"y":0.0079},{"s":3,"t":28.5,"y":0.0096},{"s":3,"t":29,"y":0.0079},{"s":3,"t":29.5,"y":0.0096},{"s":3,"t":30,"y":0.0079},
{"s":4,"t":1.5,"y":0.0102},{"s":4,"t":3,"y":0.0096},{"s":4,"t":4.5,"y":0.009},{"s":4,"t":5,"y":0.0084},{"s":4,"t":5.5,"y":0.008},
{"s":4,"t":6,"y":0.0069},{"s":4,"t":6.5,"y":0.008},{"s":4,"t":7,"y":0.0069},{"s":4,"t":7.5,"y":0.008},{"s":4,"t":8,"y":0.0069},{"s":4,"t":8.5,"y":0.008},{"s":4,"t":9,"y":0.0069},{"s":4,"t":9.5,"y":0.008},{"s":4,"t":10,"y":0.0069},{"s":4,"t":10.5,"y":0.008},{"s":4,"t":11,"y":0.0069},{"s":4,"t":11.5,"y":0.008},{"s":4,"t":12,"y":0.0069},{"s":4,"t":12.5,"y":0.008},{"s":4,"t":13,"y":0.0069},{"s":4,"t":13.5,"y":0.008},{"s":4,"t":14,"y":0.0069},{"s":4,"t":14.5,"y":0.008},{"s":4,"t":15,"y":0.0063},{"s":4,"t":15.5,"y":0.008},{"s":4,"t":16,"y":0.0063},{"s":4,"t":16.5,"y":0.008},{"s":4,"t":17,"y":0.0063},{"s":4,"t":17.5,"y":0.008},{"s":4,"t":18,"y":0.0063},{"s":4,"t":18.5,"y":0.008},{"s":4,"t":19,"y":0.0063},{"s":4,"t":19.5,"y":0.008},{"s":4,"t":20,"y":0.0063},{"s":4,"t":20.5,"y":0.008},{"s":4,"t":21,"y":0.0063},{"s":4,"t":21.5,"y":0.008},{"s":4,"t":22,"y":0.0063},{"s":4,"t":22.5,"y":0.008},{"s":4,"t":23,"y":0.0063},{"s":4,"t":23.5,"y":0.008},{"s":4,"t":24,"y":0.0063},{"s":4,"t":24.5,"y":0.008},{"s":4,"t":25,"y":0.0063},{"s":4,"t":25.5,"y":0.008},{"s":4,"t":26,"y":0.0063},{"s":4,"t":26.5,"y":0.008},{"s":4,"t":27,"y":0.0063},{"s":4,"t":27.5,"y":0.008},{"s":4,"t":28,"y":0.0063},{"s":4,"t":28.5,"y":0.008},{"s":4,"t":29,"y":0.0063},{"s":4,"t":29.5,"y":0.008},{"s":4,"t":30,"y":0.0063},
{"s":0,"t":0,"y":-0.0001},{"s":0,"t":0.08,"y":0.0035},{"s":0,"t":0.18,"y":0.0068},{"s":0,"t":0.3,"y":0.008},{"s":0,"t":0.55,"y":0.0091},{"s":0,"t":0.85,"y":0.0101},{"s":0,"t":1.2,"y":0.0104},{"s":0,"t":1.5,"y":0.0102},
{"s":0,"t":2,"y":0.01},{"s":0,"t":2.5,"y":0.0109},{"s":0,"t":3,"y":0.01},{"s":0,"t":3.5,"y":0.0109},{"s":0,"t":4,"y":0.01},{"s":0,"t":4.5,"y":0.0109},{"s":0,"t":5,"y":0.01},{"s":0,"t":5.5,"y":0.0109},{"s":0,"t":6,"y":0.01},{"s":0,"t":6.5,"y":0.0109},{"s":0,"t":7,"y":0.01},{"s":0,"t":7.5,"y":0.0109},{"s":0,"t":8,"y":0.01},{"s":0,"t":8.5,"y":0.0109},{"s":0,"t":9,"y":0.01},{"s":0,"t":9.5,"y":0.0109},{"s":0,"t":10,"y":0.01},{"s":0,"t":10.5,"y":0.0109},{"s":0,"t":11,"y":0.01},{"s":0,"t":11.5,"y":0.0109},{"s":0,"t":12,"y":0.01},{"s":0,"t":12.5,"y":0.0109},{"s":0,"t":13,"y":0.01},{"s":0,"t":13.5,"y":0.0109},{"s":0,"t":14,"y":0.01},{"s":0,"t":14.5,"y":0.0109},{"s":0,"t":15,"y":0.01},{"s":0,"t":15.5,"y":0.0109},{"s":0,"t":16,"y":0.01},{"s":0,"t":16.5,"y":0.0109},{"s":0,"t":17,"y":0.01},{"s":0,"t":17.5,"y":0.0109},{"s":0,"t":18,"y":0.01},{"s":0,"t":18.5,"y":0.0109},{"s":0,"t":19,"y":0.01},{"s":0,"t":19.5,"y":0.0109},{"s":0,"t":20,"y":0.01},{"s":0,"t":20.5,"y":0.0109},{"s":0,"t":21,"y":0.01},{"s":0,"t":21.5,"y":0.0109},{"s":0,"t":22,"y":0.01},{"s":0,"t":22.5,"y":0.0109},{"s":0,"t":23,"y":0.01},{"s":0,"t":23.5,"y":0.0109},{"s":0,"t":24,"y":0.01},{"s":0,"t":24.5,"y":0.0109},{"s":0,"t":25,"y":0.01},{"s":0,"t":25.5,"y":0.0109},{"s":0,"t":26,"y":0.01},{"s":0,"t":26.5,"y":0.0109},{"s":0,"t":27,"y":0.01},{"s":0,"t":27.5,"y":0.0109},{"s":0,"t":28,"y":0.01},{"s":0,"t":28.5,"y":0.0109},{"s":0,"t":29,"y":0.01},{"s":0,"t":29.5,"y":0.0109},{"s":0,"t":30,"y":0.01},
{"s":-1,"t":0,"y":-0.0001},{"s":-1,"t":0.08,"y":0.0035},{"s":-1,"t":0.18,"y":0.0068},{"s":-1,"t":0.3,"y":0.008},{"s":-1,"t":0.55,"y":0.0091},{"s":-1,"t":0.85,"y":0.0104},{"s":-1,"t":1.2,"y":0.0107},{"s":-1,"t":1.5,"y":0.0103},{"s":-1,"t":1.9,"y":0.0108},{"s":-1,"t":2.3,"y":0.0103},{"s":-1,"t":3,"y":0.0109},{"s":-1,"t":3.4,"y":0.0105},{"s":-1,"t":3.9,"y":0.0108},{"s":-1,"t":4.3,"y":0.0104},{"s":-1,"t":4.7,"y":0.0107}
],
"aer1896":[
{"s":2,"t":0,"y":0},{"s":2,"t":1,"y":0.0012},{"s":2,"t":5,"y":0.0012},{"s":2,"t":7.1,"y":0.0013},{"s":2,"t":7.4,"y":0.0128},{"s":2,"t":8,"y":0.013},{"s":2,"t":30,"y":0.013},
{"s":5,"t":0,"y":0},{"s":5,"t":0.6,"y":0.003},{"s":5,"t":1.2,"y":0.0042},{"s":5,"t":2,"y":0.0038},{"s":5,"t":3,"y":0.0033},{"s":5,"t":4,"y":0.003},{"s":5,"t":5.5,"y":0.0025},{"s":5,"t":6.5,"y":0.003},{"s":5,"t":7,"y":0.0033},{"s":5,"t":30,"y":0.0034},
{"s":6,"t":0,"y":0},{"s":6,"t":1,"y":0.0015},{"s":6,"t":5,"y":0.0013},{"s":6,"t":6.5,"y":0.0014},{"s":6,"t":30,"y":0.0014},
{"s":7,"t":0,"y":0},{"s":7,"t":1,"y":0.0011},{"s":7,"t":5,"y":0.0011},{"s":7,"t":6.5,"y":0.0009},{"s":7,"t":30,"y":0.0009},
{"s":8,"t":0,"y":0},{"s":8,"t":1,"y":0.001},{"s":8,"t":5,"y":0.0012},{"s":8,"t":6.5,"y":0.0005},{"s":8,"t":30,"y":0.0005},
{"s":9,"t":0,"y":0},{"s":9,"t":1,"y":0.0008},{"s":9,"t":5,"y":0.001},{"s":9,"t":6.5,"y":0.0001},{"s":9,"t":30,"y":0.0001},
{"s":10,"t":0,"y":0},{"s":10,"t":1,"y":0.0009},{"s":10,"t":5,"y":0.0009},{"s":10,"t":6.5,"y":-0.0004},{"s":10,"t":30,"y":-0.0004},
{"s":11,"t":0,"y":0},{"s":11,"t":1,"y":0.0007},{"s":11,"t":5,"y":0.001},{"s":11,"t":6.5,"y":-0.0008},{"s":11,"t":30,"y":-0.0008},
{"s":12,"t":0,"y":0},{"s":12,"t":1,"y":0.0006},{"s":12,"t":5,"y":0.0008},{"s":12,"t":6.5,"y":-0.0013},{"s":12,"t":30,"y":-0.0013},
{"s":13,"t":0,"y":0},{"s":13,"t":1,"y":0.0012},{"s":13,"t":5,"y":0.0011},{"s":13,"t":6.2,"y":0.001},{"s":13,"t":6.4,"y":-0.0019},{"s":13,"t":30,"y":-0.0019},
{"s":14,"t":0,"y":0},{"s":14,"t":1,"y":0.0005},{"s":14,"t":5,"y":0.0007},{"s":14,"t":6.5,"y":-0.0023},{"s":14,"t":8.5,"y":-0.0023},{"s":14,"t":8.7,"y":-0.0026},{"s":14,"t":8.9,"y":-0.0023},{"s":14,"t":30,"y":-0.0023},
{"s":1,"t":0,"y":0},{"s":1,"t":1,"y":0.0013},{"s":1,"t":3,"y":0.0015},{"s":1,"t":5,"y":0.0013},{"s":1,"t":6,"y":0.0015},{"s":1,"t":6.3,"y":0.0125},{"s":1,"t":6.6,"y":0.0133},{"s":1,"t":7,"y":0.0134},
{"s":1,"t":7.5,"y":0.0138},{"s":1,"t":8,"y":0.0131},{"s":1,"t":8.5,"y":0.0138},{"s":1,"t":9,"y":0.0131},{"s":1,"t":9.5,"y":0.0138},{"s":1,"t":10,"y":0.0131},{"s":1,"t":10.5,"y":0.0138},{"s":1,"t":11,"y":0.0131},{"s":1,"t":11.5,"y":0.0138},{"s":1,"t":12,"y":0.0131},{"s":1,"t":12.5,"y":0.0138},{"s":1,"t":13,"y":0.0131},{"s":1,"t":13.5,"y":0.0138},{"s":1,"t":14,"y":0.0131},{"s":1,"t":14.5,"y":0.0138},{"s":1,"t":15,"y":0.0131},{"s":1,"t":15.5,"y":0.0138},{"s":1,"t":16,"y":0.0131},{"s":1,"t":16.5,"y":0.0138},{"s":1,"t":17,"y":0.0131},{"s":1,"t":17.5,"y":0.0138},{"s":1,"t":18,"y":0.0131},{"s":1,"t":18.5,"y":0.0138},{"s":1,"t":19,"y":0.0131},{"s":1,"t":19.5,"y":0.0138},{"s":1,"t":20,"y":0.0131},{"s":1,"t":20.5,"y":0.0138},{"s":1,"t":21,"y":0.0131},{"s":1,"t":21.5,"y":0.0138},{"s":1,"t":22,"y":0.0131},{"s":1,"t":22.5,"y":0.0138},{"s":1,"t":23,"y":0.0131},{"s":1,"t":23.5,"y":0.0138},{"s":1,"t":24,"y":0.0131},{"s":1,"t":24.5,"y":0.0138},{"s":1,"t":25,"y":0.0131},{"s":1,"t":25.5,"y":0.0138},{"s":1,"t":26,"y":0.0131},{"s":1,"t":26.5,"y":0.0138},{"s":1,"t":27,"y":0.0131},{"s":1,"t":27.5,"y":0.0138},{"s":1,"t":28,"y":0.0131},{"s":1,"t":28.5,"y":0.0138},{"s":1,"t":29,"y":0.0131},{"s":1,"t":29.5,"y":0.0138},{"s":1,"t":30,"y":0.0131},
{"s":3,"t":0,"y":0},{"s":3,"t":1,"y":0.0015},{"s":3,"t":5,"y":0.0015},{"s":3,"t":7,"y":0.0035},{"s":3,"t":8,"y":0.006},{"s":3,"t":9,"y":0.0078},{"s":3,"t":10,"y":0.0087},
{"s":3,"t":10.5,"y":0.0097},{"s":3,"t":11,"y":0.0087},{"s":3,"t":11.5,"y":0.0097},{"s":3,"t":12,"y":0.0087},{"s":3,"t":12.5,"y":0.0097},{"s":3,"t":13,"y":0.0087},{"s":3,"t":13.5,"y":0.0097},{"s":3,"t":14,"y":0.0087},{"s":3,"t":14.5,"y":0.0097},{"s":3,"t":15,"y":0.0087},{"s":3,"t":15.5,"y":0.0097},{"s":3,"t":16,"y":0.0087},{"s":3,"t":16.5,"y":0.0097},{"s":3,"t":17,"y":0.0087},{"s":3,"t":17.5,"y":0.0097},{"s":3,"t":18,"y":0.0087},{"s":3,"t":18.5,"y":0.0097},{"s":3,"t":19,"y":0.0087},{"s":3,"t":19.5,"y":0.0097},{"s":3,"t":20,"y":0.0087},{"s":3,"t":20.5,"y":0.0097},{"s":3,"t":21,"y":0.0087},{"s":3,"t":21.5,"y":0.0097},{"s":3,"t":22,"y":0.0087},{"s":3,"t":22.5,"y":0.0097},{"s":3,"t":23,"y":0.0087},{"s":3,"t":23.5,"y":0.0097},{"s":3,"t":24,"y":0.0087},{"s":3,"t":24.5,"y":0.0097},{"s":3,"t":25,"y":0.0087},{"s":3,"t":25.5,"y":0.0097},{"s":3,"t":26,"y":0.0087},{"s":3,"t":26.5,"y":0.0097},{"s":3,"t":27,"y":0.0087},{"s":3,"t":27.5,"y":0.0097},{"s":3,"t":28,"y":0.0087},{"s":3,"t":28.5,"y":0.0097},{"s":3,"t":29,"y":0.0087},{"s":3,"t":29.5,"y":0.0097},{"s":3,"t":30,"y":0.0087},
{"s":4,"t":0,"y":0},{"s":4,"t":0.5,"y":0.0035},{"s":4,"t":1.2,"y":0.0062},{"s":4,"t":1.7,"y":0.0052},{"s":4,"t":2.2,"y":0.0054},{"s":4,"t":2.7,"y":0.0046},{"s":4,"t":3.3,"y":0.0047},{"s":4,"t":4,"y":0.004},{"s":4,"t":4.6,"y":0.0042},{"s":4,"t":5.3,"y":0.0035},{"s":4,"t":6,"y":0.0036},{"s":4,"t":7,"y":0.005},
{"s":4,"t":7.5,"y":0.0066},{"s":4,"t":8,"y":0.0051},{"s":4,"t":8.5,"y":0.0066},{"s":4,"t":9,"y":0.0051},{"s":4,"t":9.5,"y":0.0066},{"s":4,"t":10,"y":0.0051},{"s":4,"t":10.5,"y":0.0066},{"s":4,"t":11,"y":0.0051},{"s":4,"t":11.5,"y":0.0066},{"s":4,"t":12,"y":0.0051},{"s":4,"t":12.5,"y":0.0066},{"s":4,"t":13,"y":0.0051},{"s":4,"t":13.5,"y":0.0066},{"s":4,"t":14,"y":0.0051},{"s":4,"t":14.5,"y":0.0066},{"s":4,"t":15,"y":0.0051},{"s":4,"t":15.5,"y":0.0066},{"s":4,"t":16,"y":0.0051},{"s":4,"t":16.5,"y":0.0066},{"s":4,"t":17,"y":0.0051},{"s":4,"t":17.5,"y":0.0066},{"s":4,"t":18,"y":0.0051},{"s":4,"t":18.5,"y":0.0066},{"s":4,"t":19,"y":0.0051},{"s":4,"t":19.5,"y":0.0066},{"s":4,"t":20,"y":0.0051},{"s":4,"t":20.5,"y":0.0066},{"s":4,"t":21,"y":0.0051},{"s":4,"t":21.5,"y":0.0066},{"s":4,"t":22,"y":0.0051},{"s":4,"t":22.5,"y":0.0066},{"s":4,"t":23,"y":0.0051},{"s":4,"t":23.5,"y":0.0066},{"s":4,"t":24,"y":0.0051},{"s":4,"t":24.5,"y":0.0066},{"s":4,"t":25,"y":0.0051},{"s":4,"t":25.5,"y":0.0066},{"s":4,"t":26,"y":0.0051},{"s":4,"t":26.5,"y":0.0066},{"s":4,"t":27,"y":0.0051},{"s":4,"t":27.5,"y":0.0066},{"s":4,"t":28,"y":0.0051},{"s":4,"t":28.5,"y":0.0066},{"s":4,"t":29,"y":0.0051},{"s":4,"t":29.5,"y":0.0066},{"s":4,"t":30,"y":0.0051},
{"s":0,"t":0,"y":-0.0001},{"s":0,"t":0.3,"y":0.001},{"s":0,"t":0.8,"y":0.0015},{"s":0,"t":1.5,"y":0.0016},{"s":0,"t":2.5,"y":0.0015},{"s":0,"t":3.5,"y":0.0016},{"s":0,"t":4.5,"y":0.0014},{"s":0,"t":5.5,"y":0.0012},{"s":0,"t":6.2,"y":0.0011},{"s":0,"t":6.8,"y":0.0015},{"s":0,"t":7.5,"y":0.0018},{"s":0,"t":10,"y":0.0018},{"s":0,"t":15,"y":0.0019},{"s":0,"t":20,"y":0.0018},{"s":0,"t":25,"y":0.0019},{"s":0,"t":30,"y":0.0018},
{"s":-1,"t":0,"y":-0.0001},{"s":-1,"t":0.2,"y":0.0012},{"s":-1,"t":0.42,"y":0.002},{"s":-1,"t":0.8,"y":0.0022},{"s":-1,"t":1.2,"y":0.0027},{"s":-1,"t":1.5,"y":0.0017},{"s":-1,"t":1.9,"y":0.0022},{"s":-1,"t":2.5,"y":0.0014},{"s":-1,"t":3.1,"y":0.0021},{"s":-1,"t":3.8,"y":0.0016},{"s":-1,"t":4.4,"y":0.0019},{"s":-1,"t":4.95,"y":0.0011}
]
},
"concat":[
{"width":340,"height":197,"title":"Exp1806","data":{"name":"pre1806"},
"encoding":{"x":{"field":"t","type":"quantitative","scale":{"domain":[-1.5,31.5],"nice":false,"zero":false},"axis":null},
"y":{"field":"y","type":"quantitative","scale":{"domain":[-0.0026,0.0549],"nice":false,"zero":false},"axis":{"values":[0,0.02,0.04],"format":".2f","title":"Precursor (μg/m³)"}}},
"layer":[
{"transform":[{"filter":"datum.s>0"}],"mark":{"type":"line","strokeWidth":1,"opacity":0.6},"encoding":{"detail":{"field":"s","type":"nominal"},"color":{"datum":"Member","type":"nominal","scale":{"domain":["Member","Mean","True"],"range":["#8b0000","#8b0000","#000000"]},"legend":{"title":null,"orient":"top-right","offset":9,"padding":7.5,"fillColor":"rgba(255,255,255,0.8)","strokeColor":"#cccccc","cornerRadius":4,"symbolType":"M-2.0625,0H6.6875","symbolSize":64,"symbolStrokeWidth":{"expr":"(datum.value === 'Member' ? 1 : 6.5)"},"symbolDash":{"expr":"(datum.value === 'True' ? [24,11] : [1,0])"},"symbolOpacity":{"expr":"(datum.value === 'Member' ? 0.55 : 1)"},"labelFontSize":16.5,"labelColor":"#000","labelOffset":32.5,"rowPadding":8.7}}}},
{"transform":[{"filter":"datum.s==0"}],"mark":{"type":"line","strokeWidth":6.5},"encoding":{"color":{"datum":"Mean","type":"nominal"}}},
{"transform":[{"filter":"datum.s<0"}],"mark":{"type":"line","strokeWidth":6.5,"strokeDash":[25,10]},"encoding":{"color":{"datum":"True","type":"nominal"}}}
]},
{"width":340,"height":197,"title":"Exp1812","data":{"name":"pre1812"},
"encoding":{"x":{"field":"t","type":"quantitative","scale":{"domain":[-1.5,31.5],"nice":false,"zero":false},"axis":null},
"y":{"field":"y","type":"quantitative","scale":{"domain":[-0.0026,0.0549],"nice":false,"zero":false},"axis":{"values":[0,0.02,0.04],"labels":false,"title":null}}},
"layer":[
{"transform":[{"filter":"datum.s>0"}],"mark":{"type":"line","strokeWidth":1,"opacity":0.6},"encoding":{"detail":{"field":"s","type":"nominal"},"color":{"datum":"Member","type":"nominal","scale":{"domain":["Member","Mean","True"],"range":["#8b0000","#8b0000","#000000"]},"legend":{"title":null,"orient":"top-right","offset":9,"padding":7.5,"fillColor":"rgba(255,255,255,0.8)","strokeColor":"#cccccc","cornerRadius":4,"symbolType":"M-2.0625,0H6.6875","symbolSize":64,"symbolStrokeWidth":{"expr":"(datum.value === 'Member' ? 1 : 6.5)"},"symbolDash":{"expr":"(datum.value === 'True' ? [24,11] : [1,0])"},"symbolOpacity":{"expr":"(datum.value === 'Member' ? 0.55 : 1)"},"labelFontSize":16.5,"labelColor":"#000","labelOffset":32.5,"rowPadding":8.7}}}},
{"transform":[{"filter":"datum.s==0"}],"mark":{"type":"line","strokeWidth":6.5},"encoding":{"color":{"datum":"Mean","type":"nominal"}}},
{"transform":[{"filter":"datum.s<0"}],"mark":{"type":"line","strokeWidth":6.5,"strokeDash":[25,10]},"encoding":{"color":{"datum":"True","type":"nominal"}}}
]},
{"width":334,"height":197,"title":"Exp1896","data":{"name":"pre1896"},
"encoding":{"x":{"field":"t","type":"quantitative","scale":{"domain":[-1.5,30.9],"nice":false,"zero":false},"axis":null},
"y":{"field":"y","type":"quantitative","scale":{"domain":[-0.0026,0.0549],"nice":false,"zero":false},"axis":{"values":[0,0.02,0.04],"labels":false,"title":null}}},
"layer":[
{"transform":[{"filter":"datum.s>0"}],"mark":{"type":"line","strokeWidth":1,"opacity":0.6},"encoding":{"detail":{"field":"s","type":"nominal"},"color":{"datum":"Member","type":"nominal","scale":{"domain":["Member","Mean","True"],"range":["#8b0000","#8b0000","#000000"]},"legend":{"title":null,"orient":"none","legendX":200,"legendY":9,"padding":7.5,"fillColor":"rgba(255,255,255,0.8)","strokeColor":"#cccccc","cornerRadius":4,"symbolType":"M-2.0625,0H6.6875","symbolSize":64,"symbolStrokeWidth":{"expr":"(datum.value === 'Member' ? 1 : 6.5)"},"symbolDash":{"expr":"(datum.value === 'True' ? [24,11] : [1,0])"},"symbolOpacity":{"expr":"(datum.value === 'Member' ? 0.55 : 1)"},"labelFontSize":16.5,"labelColor":"#000","labelOffset":32.5,"rowPadding":8.7}}}},
{"transform":[{"filter":"datum.s==0"}],"mark":{"type":"line","strokeWidth":6.5},"encoding":{"color":{"datum":"Mean","type":"nominal"}}},
{"transform":[{"filter":"datum.s<0"}],"mark":{"type":"line","strokeWidth":6.5,"strokeDash":[25,10]},"encoding":{"color":{"datum":"True","type":"nominal"}}}
]},
{"width":340,"height":197,"data":{"name":"gas1806"},
"encoding":{"x":{"field":"t","type":"quantitative","scale":{"domain":[-1.5,31.5],"nice":false,"zero":false},"axis":null},
"y":{"field":"y","type":"quantitative","scale":{"domain":[-0.00477,0.02264],"nice":false,"zero":false},"axis":{"values":[0,0.01,0.02],"format":".2f","title":"Gas (μg/m³)"}}},
"layer":[
{"transform":[{"filter":"datum.s>0"}],"mark":{"type":"line","color":"#00008b","strokeWidth":0.9,"opacity":0.45},"encoding":{"detail":{"field":"s","type":"nominal"}}},
{"transform":[{"filter":"datum.s==0"}],"mark":{"type":"line","color":"#00008b","strokeWidth":6.5}},
{"transform":[{"filter":"datum.s<0"}],"mark":{"type":"line","color":"#000000","strokeWidth":6.5,"strokeDash":[25,10]}}
]},
{"width":340,"height":197,"data":{"name":"gas1812"},
"encoding":{"x":{"field":"t","type":"quantitative","scale":{"domain":[-1.5,31.5],"nice":false,"zero":false},"axis":null},
"y":{"field":"y","type":"quantitative","scale":{"domain":[-0.00477,0.02264],"nice":false,"zero":false},"axis":{"values":[0,0.01,0.02],"labels":false,"title":null}}},
"layer":[
{"transform":[{"filter":"datum.s>0"}],"mark":{"type":"line","color":"#00008b","strokeWidth":0.9,"opacity":0.45},"encoding":{"detail":{"field":"s","type":"nominal"}}},
{"transform":[{"filter":"datum.s==0"}],"mark":{"type":"line","color":"#00008b","strokeWidth":6.5}},
{"transform":[{"filter":"datum.s<0"}],"mark":{"type":"line","color":"#000000","strokeWidth":6.5,"strokeDash":[25,10]}}
]},
{"width":334,"height":197,"data":{"name":"gas1896"},
"encoding":{"x":{"field":"t","type":"quantitative","scale":{"domain":[-1.5,30.9],"nice":false,"zero":false},"axis":null},
"y":{"field":"y","type":"quantitative","scale":{"domain":[-0.00477,0.02264],"nice":false,"zero":false},"axis":{"values":[0,0.01,0.02],"labels":false,"title":null}}},
"layer":[
{"transform":[{"filter":"datum.s>0"}],"mark":{"type":"line","color":"#00008b","strokeWidth":0.9,"opacity":0.45},"encoding":{"detail":{"field":"s","type":"nominal"}}},
{"transform":[{"filter":"datum.s==0"}],"mark":{"type":"line","color":"#00008b","strokeWidth":6.5}},
{"transform":[{"filter":"datum.s<0"}],"mark":{"type":"line","color":"#000000","strokeWidth":6.5,"strokeDash":[25,10]}}
]},
{"width":340,"height":196,"data":{"name":"aer1806"},
"encoding":{"x":{"field":"t","type":"quantitative","scale":{"domain":[-1.5,31.5],"nice":false,"zero":false},"axis":{"values":[0,5,10,15,20,25,30],"format":"d","title":"Time (day)","titlePadding":6}},
"y":{"field":"y","type":"quantitative","scale":{"domain":[-0.00354,0.0159],"nice":false,"zero":false},"axis":{"values":[0,0.005,0.01,0.015],"format":".3f","title":"Aerosol (μg/m³)"}}},
"layer":[
{"transform":[{"filter":"datum.s>0"}],"mark":{"type":"line","color":"#006400","strokeWidth":0.9,"opacity":0.45},"encoding":{"detail":{"field":"s","type":"nominal"}}},
{"transform":[{"filter":"datum.s==0"}],"mark":{"type":"line","color":"#006400","strokeWidth":6.5}},
{"transform":[{"filter":"datum.s<0"}],"mark":{"type":"line","color":"#000000","strokeWidth":6.5,"strokeDash":[25,10]}}
]},
{"width":340,"height":196,"data":{"name":"aer1812"},
"encoding":{"x":{"field":"t","type":"quantitative","scale":{"domain":[-1.5,31.5],"nice":false,"zero":false},"axis":{"values":[0,5,10,15,20,25,30],"format":"d","title":"Time (day)","titlePadding":6}},
"y":{"field":"y","type":"quantitative","scale":{"domain":[-0.00354,0.0159],"nice":false,"zero":false},"axis":{"values":[0,0.005,0.01,0.015],"labels":false,"title":null}}},
"layer":[
{"transform":[{"filter":"datum.s>0"}],"mark":{"type":"line","color":"#006400","strokeWidth":0.9,"opacity":0.45},"encoding":{"detail":{"field":"s","type":"nominal"}}},
{"transform":[{"filter":"datum.s==0"}],"mark":{"type":"line","color":"#006400","strokeWidth":6.5}},
{"transform":[{"filter":"datum.s<0"}],"mark":{"type":"line","color":"#000000","strokeWidth":6.5,"strokeDash":[25,10]}}
]},
{"width":334,"height":196,"data":{"name":"aer1896"},
"encoding":{"x":{"field":"t","type":"quantitative","scale":{"domain":[-1.5,30.9],"nice":false,"zero":false},"axis":{"values":[0,5,10,15,20,25,30],"format":"d","title":"Time (day)","titlePadding":6}},
"y":{"field":"y","type":"quantitative","scale":{"domain":[-0.00354,0.0159],"nice":false,"zero":false},"axis":{"values":[0,0.005,0.01,0.015],"labels":false,"title":null}}},
"layer":[
{"transform":[{"filter":"datum.s>0"}],"mark":{"type":"line","color":"#006400","strokeWidth":0.9,"opacity":0.45},"encoding":{"detail":{"field":"s","type":"nominal"}}},
{"transform":[{"filter":"datum.s==0"}],"mark":{"type":"line","color":"#006400","strokeWidth":6.5}},
{"transform":[{"filter":"datum.s<0"}],"mark":{"type":"line","color":"#000000","strokeWidth":6.5,"strokeDash":[25,10]}}
]}
]
}
